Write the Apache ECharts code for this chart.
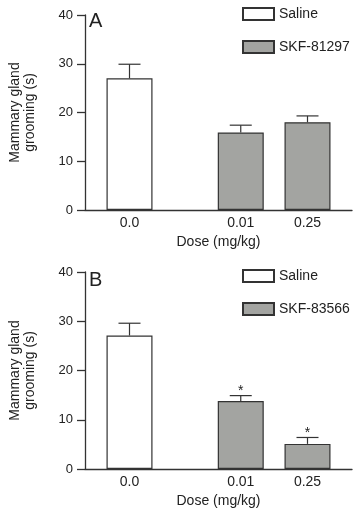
<!DOCTYPE html>
<html>
<head>
<meta charset="utf-8">
<script src="https://cdn.jsdelivr.net/npm/echarts@6/dist/echarts.min.js"></script>
<style>
  html, body { margin: 0; padding: 0; background: #fff; }
  #chart { width: 362px; height: 512px; }
</style>
</head>
<body>
<div id="chart"></div>
<script>
// doses on the x axis
const doseLabels = ['0.0', '0.01', '0.25'];

// panel A: SKF-81297
const groomA = [27.0, 15.9, 18.0];
const semA = [2.9, 1.5, 1.3];
const sigA = ['', '', ''];

// panel B: SKF-83566
const groomB = [27.1, 13.8, 5.1];
const semB = [2.5, 1.1, 1.3];
const sigB = ['', '*', '*'];

const yTicks = [0, 10, 20, 30, 40];

// where each dose sits along the x axis (layout only)
const xSlots = [1, 3.5, 5];

const font = 'Liberation Sans';
const ink = '#222';
const grayFill = '#a3a4a1';

const chart = echarts.init(document.getElementById('chart'), null, { renderer: 'canvas' });

function errorSeries(idx, means, sems, sigs) {
    return {
        type: 'custom',
        xAxisIndex: idx,
        yAxisIndex: idx,
        z: 5,
        silent: true,
        data: means.map((m, i) => [xSlots[i], m, sems[i]]),
        renderItem: (params, api) => {
            const x = api.value(0), m = api.value(1), e = api.value(2);
            const b = api.coord([x, m]);
            const t = api.coord([x, m + e]);
            const st = { stroke: '#333', lineWidth: 1.2 };
            return {
                type: 'group',
                children: [
                    { type: 'line', shape: { x1: b[0], y1: b[1], x2: t[0], y2: t[1] }, style: st },
                    { type: 'line', shape: { x1: t[0] - 11, y1: t[1], x2: t[0] + 11, y2: t[1] }, style: st },
                    { type: 'text', style: { text: sigs[params.dataIndex], x: t[0], y: t[1] + 3, align: 'center', verticalAlign: 'bottom', fontSize: 14, fontFamily: font, fill: ink } }
                ]
            };
        }
    };
}

function barSeries(idx, name, means, which, fill) {
    return {
        name: name,
        type: 'bar',
        xAxisIndex: idx,
        yAxisIndex: idx,
        barWidth: 46,
        barGap: '-100%',
        itemStyle: { color: fill, borderColor: '#333', borderWidth: 1.2 },
        data: means.map((m, i) => [xSlots[i], m]).filter((d, i) => which.includes(i))
    };
}

const xAxisBase = {
    type: 'value',
    min: 0,
    max: 6,
    splitLine: { show: false },
    axisLine: { show: true, lineStyle: { color: '#333', width: 1.3 } },
    axisTick: { show: false },
    axisLabel: {
        customValues: xSlots,
        formatter: v => doseLabels[xSlots.indexOf(v)],
        fontSize: 14, fontFamily: font, color: ink, margin: 6
    },
    name: 'Dose (mg/kg)',
    nameLocation: 'middle',
    nameGap: 25,
    nameTextStyle: { fontSize: 14, fontFamily: font, color: ink }
};

const yAxisBase = {
    type: 'value',
    min: 0,
    max: 40,
    interval: 10,
    splitLine: { show: false },
    axisLine: { show: true, lineStyle: { color: '#333', width: 1.3 } },
    axisTick: { show: true, length: 8, lineStyle: { color: '#333', width: 1.3 } },
    axisLabel: { fontSize: 13, fontFamily: font, color: ink, margin: 12 },
    name: 'Mammary gland\ngrooming (s)',
    nameLocation: 'middle',
    nameGap: 47,
    nameTextStyle: { fontSize: 14, fontFamily: font, color: ink, lineHeight: 15 }
};

function legendFor(top, drug) {
    return {
        data: ['Saline', drug],
        orient: 'vertical',
        left: 237,
        top: top,
        icon: 'rect',
        itemWidth: 31,
        itemHeight: 12,
        itemGap: 19,
        selectedMode: false,
        textStyle: { fontSize: 14, fontFamily: font, color: ink }
    };
}

const option = {
    backgroundColor: '#fff',
    animation: false,
    title: [
        { text: 'A', left: 84, top: 6, textStyle: { fontSize: 20, fontWeight: 'normal', fontFamily: font, color: ink } },
        { text: 'B', left: 84, top: 265, textStyle: { fontSize: 20, fontWeight: 'normal', fontFamily: font, color: ink } }
    ],
    legend: [legendFor(2, 'SKF-81297'), legendFor(264, 'SKF-83566')],
    grid: [
        { left: 81, top: 15, width: 271, height: 195 },
        { left: 81, top: 272, width: 271, height: 197 }
    ],
    xAxis: [
        Object.assign({ gridIndex: 0 }, xAxisBase),
        Object.assign({ gridIndex: 1 }, xAxisBase)
    ],
    yAxis: [
        Object.assign({ gridIndex: 0 }, yAxisBase),
        Object.assign({ gridIndex: 1 }, yAxisBase)
    ],
    series: [
        barSeries(0, 'Saline', groomA, [0], '#fff'),
        barSeries(0, 'SKF-81297', groomA, [1, 2], grayFill),
        errorSeries(0, groomA, semA, sigA),
        barSeries(1, 'Saline', groomB, [0], '#fff'),
        barSeries(1, 'SKF-83566', groomB, [1, 2], grayFill),
        errorSeries(1, groomB, semB, sigB)
    ]
};

chart.setOption(option);
</script>
</body>
</html>
